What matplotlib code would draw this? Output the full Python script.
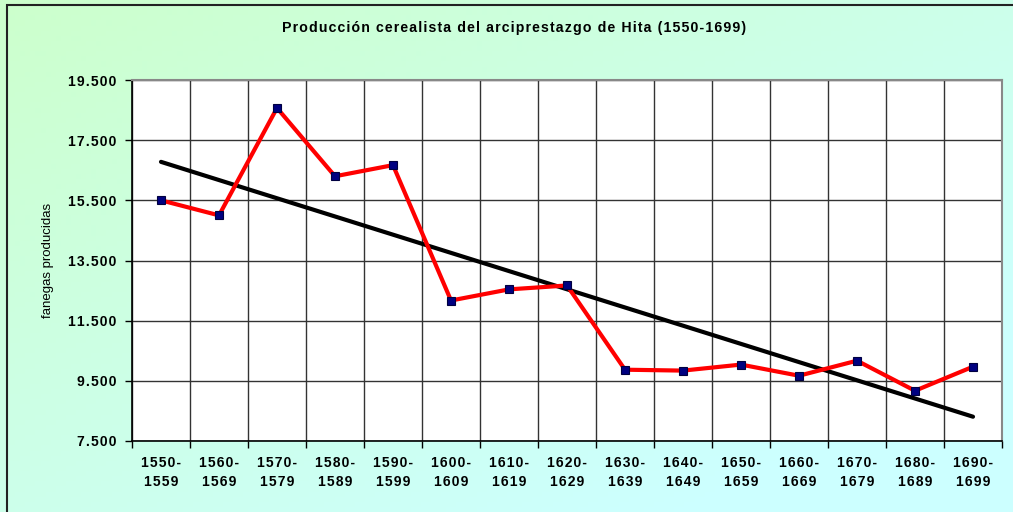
import numpy as np
import matplotlib
matplotlib.use("Agg")
import matplotlib.pyplot as plt
from matplotlib.patches import Rectangle

plt.rcParams['font.family'] = ['Liberation Sans', 'DejaVu Sans']

# decades and production (fanegas)
decades = ["1550-\n1559", "1560-\n1569", "1570-\n1579", "1580-\n1589", "1590-\n1599",
           "1600-\n1609", "1610-\n1619", "1620-\n1629", "1630-\n1639", "1640-\n1649",
           "1650-\n1659", "1660-\n1669", "1670-\n1679", "1680-\n1689", "1690-\n1699"]
fanegas = [15500, 15000, 18570, 16300, 16670, 12170, 12540, 12670,
           9870, 9840, 10040, 9670, 10170, 9170, 9970]
yticks = [7500, 9500, 11500, 13500, 15500, 17500, 19500]
ytick_labels = ["7.500", "9.500", "11.500", "13.500", "15.500", "17.500", "19.500"]
title = "Producción cerealista del arciprestazgo de Hita (1550-1699)"


def spaced(s):
    # letter spacing like the original (hair space between characters)
    return "\n".join("\u200a".join(line) for line in s.split("\n"))


fig = plt.figure(figsize=(10.13, 5.12), dpi=100)

# gradient background: light green top-left to light cyan bottom-right
bg = fig.add_axes([0, 0, 1, 1], zorder=-10)
gx, gy = np.meshgrid(np.linspace(0, 1, 200), np.linspace(0, 1, 100))
t = np.clip(0.6 * gx + 0.6 * gy, 0, 1)
c0 = np.array([204, 255, 204]) / 255
c1 = np.array([204, 255, 255]) / 255
img = c0[None, None, :] * (1 - t[..., None]) + c1[None, None, :] * t[..., None]
bg.imshow(img, aspect='auto', extent=[0, 1, 0, 1], origin='upper')
bg.set_axis_off()

# chart frame (only left and top are inside the picture)
fig.patches.append(Rectangle((7 / 1013, -0.05), 1.05, 1 - 5 / 512 + 0.05,
                             transform=fig.transFigure, fill=False,
                             edgecolor='#222222', lw=1.5, zorder=-5))

ax = fig.add_axes([132 / 1013, 1 - 441 / 512, 870 / 1013, 361 / 512])
ax.set_facecolor('white')

x = np.arange(len(fanegas))
coef = np.polyfit(x, fanegas, 1)
ax.plot(x, np.polyval(coef, x), color='black', lw=3, solid_capstyle='round', zorder=3)
ax.plot(x, fanegas, color='#ff0000', lw=3, marker='s', ms=6,
        mfc='#000080', mec='#000040', mew=0.8, zorder=4)

ax.set_xlim(-0.5, len(fanegas) - 0.5)
ax.set_ylim(yticks[0], yticks[-1])

ax.set_yticks(yticks)
ax.set_yticklabels([spaced(s) for s in ytick_labels], fontsize=10, fontweight='bold')
ax.set_xticks(x)
ax.set_xticklabels([spaced(s) for s in decades], fontsize=10, fontweight='bold',
                   linespacing=1.4)
ax.tick_params(axis='x', length=0, pad=11)
ax.tick_params(axis='y', length=5, width=1, direction='out', pad=6)

# category boundaries: ticks below the axis and vertical grid lines
bounds = np.arange(-0.5, len(fanegas), 1.0)
ax.set_xticks(bounds, minor=True)
ax.tick_params(axis='x', which='minor', length=5, width=1, direction='out')
ax.grid(True, which='minor', axis='x', color='#333333', lw=1)
ax.grid(True, which='major', axis='y', color='#333333', lw=1)
ax.set_axisbelow(True)

for side in ['top', 'right']:
    ax.spines[side].set_color('#888888')
    ax.spines[side].set_linewidth(1.5)
for side in ['left', 'bottom']:
    ax.spines[side].set_color('black')
    ax.spines[side].set_linewidth(1.2)

ax.set_ylabel("fanegas producidas", fontsize=9.5, labelpad=10)
fig.text(0.507, 1 - 28 / 512, spaced(title), ha='center', va='center',
         fontsize=10.2, fontweight='bold')

fig.savefig("out.png", dpi=100)
